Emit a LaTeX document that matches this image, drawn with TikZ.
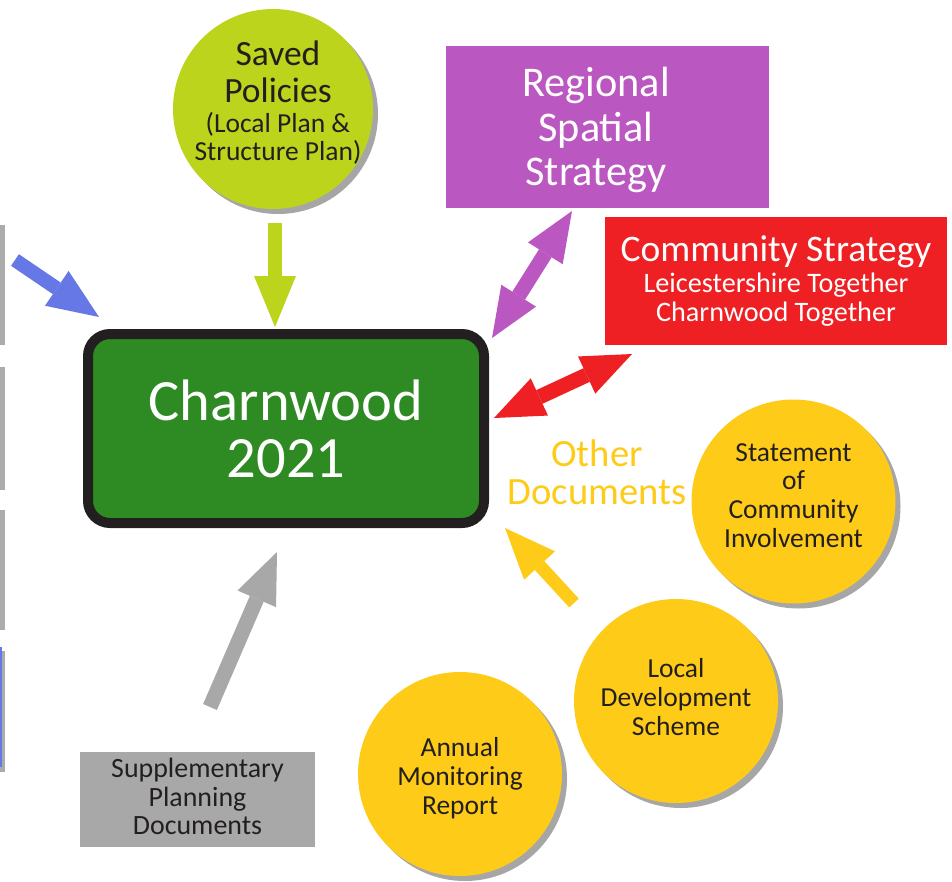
\documentclass[tikz,border=0pt]{standalone}
\usepackage{fontspec}
\setmainfont{Carlito}
\usetikzlibrary{arrows.meta,shadows}

\definecolor{charngreen}{HTML}{2E8A22}
\definecolor{framedark}{HTML}{231F20}
\definecolor{darktext}{HTML}{231F20}
\definecolor{savedgreen}{HTML}{BDD41C}
\definecolor{rssviolet}{HTML}{BA57C1}
\definecolor{csred}{HTML}{EE2024}
\definecolor{docyellow}{HTML}{FECB18}
\definecolor{spdgray}{HTML}{A8A8A8}
\definecolor{arrowblue}{HTML}{6677E6}
\definecolor{edgegray}{HTML}{ABABAB}
\definecolor{shadowgray}{HTML}{A6A6A6}

\newcommand\setfs[2]{\fontsize{#1}{#2}\selectfont}

\begin{document}
\begin{tikzpicture}[x=1pt,y=-1pt,
    docshadow/.style={drop shadow={shadow xshift=5pt,shadow yshift=-5pt,fill=shadowgray,opacity=1}},
    doccircle/.style={circle,fill=docyellow,minimum size=204pt,inner sep=0pt,docshadow},
    doctext/.style={align=center,text=darktext,font=\setfs{27.5}{28.7}},
    blockarrow/.style={line width=14pt,-{Triangle[length=51pt,width=42pt,line width=0pt]}},
    twoway/.style={line width=15pt,
      {Triangle[length=50pt,width=41pt,line width=0pt]}-{Triangle[length=50pt,width=41pt,line width=0pt]}}]
  \useasboundingbox (0,0) rectangle (952,881);

  % bits of cut-off boxes on the left edge
  \foreach \ya/\yb in {225/345,367/490,510/630,651/772}{
    \fill[edgegray] (0,\ya) rectangle (4.5,\yb);
  }
  \fill[arrowblue] (0,647) rectangle (1.5,767);

  % core strategy
  \node[draw=framedark,line width=10pt,fill=charngreen,rounded corners=22pt,
    minimum width=396pt,minimum height=189pt,text=white,align=center,
    font=\setfs{58.5}{57}] (charnwood) at (286,428.5) {Charnwood\\2021};

  % saved policies
  \node[circle,fill=savedgreen,minimum size=200pt,inner sep=0pt,docshadow] (saved) at (273,109) {};
  \node[align=center,text=darktext,font=\setfs{27.5}{28.5}] (saved-text) at (278,103)
    {\setfs{35.5}{37}Saved\\[8pt]\setfs{35.5}{37}Policies\\[1.5pt]\setfs{27.5}{28.5}(Local Plan \&\\Structure Plan)};

  % regional spatial strategy
  \node[fill=rssviolet,minimum width=323pt,minimum height=162pt,inner sep=0pt] (rss) at (607.5,127) {};
  \node[align=center,text=white,font=\setfs{42.3}{44.5}] (rss-text) at (596,130) {Regional\\Spatial\\Strategy};

  % community strategy
  \node[fill=csred,minimum width=342pt,minimum height=128pt,inner sep=0pt,align=center,
    text=white,font=\setfs{28.2}{28.5}] (cs) at (776,281)
    {\setfs{37.5}{38}Community Strategy\\[3pt]\setfs{28.2}{28.5}Leicestershire Together\\Charnwood Together};

  % other documents
  \foreach \nm/\cx/\cy/\dy/\txt in {sci/793.5/501.5/6/{Statement\\of\\Community\\Involvement},
      lds/676/701/4/{Local\\Development\\Scheme},amr/460/774/-4/{Annual\\Monitoring\\Report}}{
    \node[doccircle] (\nm) at (\cx,\cy) {};
    \node[doctext] (\nm-text) at ([yshift=\dy pt]\nm.center) {\txt};
  }
  \node[text=docyellow,align=center,font=\setfs{38.6}{38}] (other) at (597,472.5) {Other\\Documents};

  % supplementary planning documents
  \node[fill=spdgray,minimum width=235pt,minimum height=95pt,inner sep=0pt,align=center,
    text=darktext,font=\setfs{27.9}{28.5},text depth=6pt] (spd) at (197.5,799.5) {Supplementary\\Planning\\Documents};

  % arrows
  \coordinate (saved-tail) at (275,223);
  \coordinate (saved-tip) at (275,327);
  \coordinate (rss-end) at (572,211);
  \coordinate (rss-start) at (492,338);
  \coordinate (cs-end) at (632,354);
  \coordinate (cs-start) at (494,418);
  \coordinate (other-tail) at (574,603);
  \coordinate (other-tip) at (505,528);
  \coordinate (spd-tail) at (210,707);
  \coordinate (spd-tip) at (277,552);
  \coordinate (left-tail) at (15,260);
  \coordinate (left-tip) at (99,317);

  \draw[blockarrow,savedgreen] (saved-tail) -- (saved-tip);
  \draw[twoway,rssviolet] (rss-start) -- (rss-end);
  \draw[twoway,csred] (cs-start) -- (cs-end);
  \draw[blockarrow,docyellow,line width=13pt] (other-tail) -- (other-tip);
  \draw[blockarrow,spdgray,line width=15pt] (spd-tail) -- (spd-tip);
  \draw[blockarrow,arrowblue] (left-tail) -- (left-tip);
\end{tikzpicture}
\end{document}
